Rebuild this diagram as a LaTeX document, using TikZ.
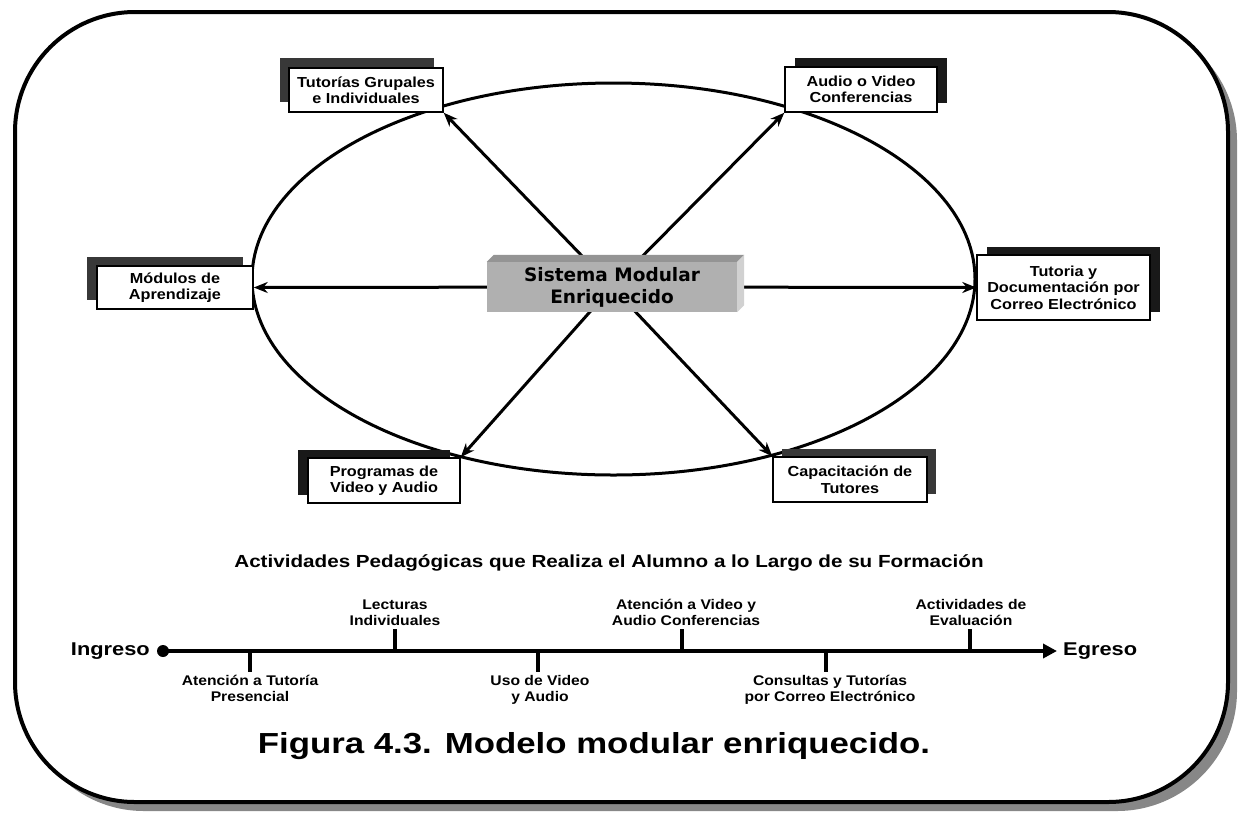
\documentclass[tikz,border=0pt]{standalone}
\usepackage{fontspec}
\setmainfont{Liberation Sans}
\newfontfamily\boxfont[FakeStretch=1.12]{Liberation Sans}
\newfontfamily\ttlfont[FakeStretch=1.18]{Liberation Sans}
\newfontfamily\capfont[FakeStretch=1.2]{Liberation Sans}
\newfontfamily\cenfont{DejaVu Sans}
\usetikzlibrary{arrows.meta,shadows,shapes.geometric,calc}
\tikzset{
  sat/.style={draw, line width=1.5pt, fill=white, align=center, inner sep=0pt,
    font={\boxfont\bfseries\fontsize{14.5}{16.5}\selectfont}},
  shd/.style n args={3}{drop shadow={shadow xshift=#1, shadow yshift=#2, fill=#3, opacity=1}},
  arr/.style={line width=3pt, -{Stealth[length=14pt,width=11pt]}},
  cbox/.style={fill=black!31, minimum width=250pt, minimum height=50pt, inner sep=0pt, align=center,
    font={\cenfont\bfseries\fontsize{18.5}{22}\selectfont}},
  tl/.style={align=center, inner sep=3pt, font={\boxfont\bfseries\fontsize{14}{16.5}\selectfont}},
  tick/.style={line width=3.5pt},
}
\begin{document}
\begin{tikzpicture}[x=1pt,y=-1pt]
\useasboundingbox (0,0) rectangle (1239,812);
% frame
\fill[black!47, rounded corners=120pt] (24,21) rectangle (1237,811);
\draw[line width=4pt, fill=white, rounded corners=120pt] (15,12) rectangle (1228,802);
% ellipse
\node[ellipse, draw, line width=3pt, minimum width=723pt, minimum height=392pt, inner sep=0pt] (ell) at (613.5,279) {};
% satellite boxes
\node[sat, shd={-9pt}{10pt}{black!78}, minimum width=154pt, minimum height=44pt] (b1) at (366,90) {Tutorías Grupales\\e Individuales};
\node[sat, shd={10pt}{9pt}{black!90}, minimum width=152pt, minimum height=45pt] (b2) at (861,89.5) {Audio o Video\\Conferencias};
\node[sat, shd={-10pt}{9pt}{black!78}, minimum width=156pt, minimum height=43pt] (b3) at (175,287.5) {Módulos de\\Aprendizaje};
\node[sat, shd={10pt}{8pt}{black!90}, minimum width=173pt, minimum height=65pt] (b4) at (1063.5,287.5) {Tutoria y\\Documentación por\\Correo Electrónico};
\node[sat, shd={-10pt}{8pt}{black!90}, minimum width=152pt, minimum height=45pt] (b5) at (384,480.5) {Programas de\\Video y Audio};
\node[sat, shd={9pt}{8pt}{black!78}, minimum width=154pt, minimum height=45pt] (b6) at (850,479.5) {Capacitación de\\Tutores};
% arrows
\coordinate (c) at (612,287);
\draw[arr] (c) -- (b1.south east);
\draw[arr] (c) -- (b2.south west);
\draw[arr] (c) -- (b3.east);
\draw[arr] (c) -- (b4.west);
\draw[arr] (c) -- (b5.north east);
\draw[arr] (c) -- (b6.north west);
% center box
\node[cbox] (cb) at (612,287) {Sistema Modular\\Enriquecido};
\fill[black!42] (cb.north west) -- ++(7,-7) -- ($(cb.north east)+(7,-7)$) -- (cb.north east) -- cycle;
\fill[black!18] (cb.north east) -- ++(7,-7) -- ($(cb.south east)+(7,-7)$) -- (cb.south east) -- cycle;
% title
\node[font={\ttlfont\bfseries\fontsize{17.5}{20}\selectfont}] (ttl) at (609,563) {Actividades Pedagógicas que Realiza el Alumno a lo Largo de su Formación};
% timeline
\node[font={\ttlfont\bfseries\fontsize{18.5}{22}\selectfont}, anchor=east, inner sep=0pt] (ing) at (150,651) {Ingreso};
\node[circle, fill, inner sep=0pt, minimum size=12pt] (dot) at (163,651) {};
\coordinate (tip) at (1057,651);
\node[font={\ttlfont\bfseries\fontsize{18.5}{22}\selectfont}, anchor=west, inner sep=0pt] (egr) at (1063,651) {Egreso};
\draw[line width=4pt, -{Triangle[length=14pt,width=14pt]}] (dot.center) -- (tip);
% ticks and labels
\coordinate (t1) at (250,651); \node[tl, anchor=north] (l1) at (250,672) {Atención a Tutoría\\Presencial}; \draw[tick] (t1) -- (l1.north);
\coordinate (t2) at (395,651); \node[tl, anchor=south] (l2) at (395,629) {Lecturas\\Individuales}; \draw[tick] (t2) -- (l2.south);
\coordinate (t3) at (538,651); \node[tl, anchor=north] (l3) at (540,672) {Uso de Video\\y Audio}; \draw[tick] (t3) -- (t3 |- l3.north);
\coordinate (t4) at (682,651); \node[tl, anchor=south] (l4) at (686,629) {Atención a Video y\\Audio Conferencias}; \draw[tick] (t4) -- (t4 |- l4.south);
\coordinate (t5) at (826,651); \node[tl, anchor=north] (l5) at (830,672) {Consultas y Tutorías\\por Correo Electrónico}; \draw[tick] (t5) -- (t5 |- l5.north);
\coordinate (t6) at (970,651); \node[tl, anchor=south] (l6) at (971,629) {Actividades de\\Evaluación}; \draw[tick] (t6) -- (t6 |- l6.south);
% caption
\node[font={\capfont\bfseries\fontsize{29}{34}\selectfont}] (cap) at (594,746) {Figura 4.3. Modelo modular enriquecido.};
\end{tikzpicture}
\end{document}
